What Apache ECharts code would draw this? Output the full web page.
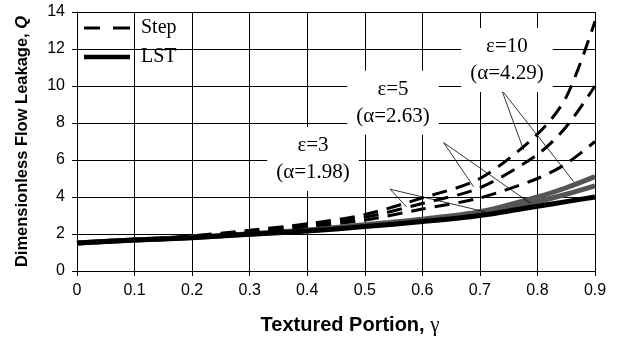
<!DOCTYPE html>
<html>
<head>
<meta charset="utf-8">
<script src="https://cdn.jsdelivr.net/npm/echarts@6/dist/echarts.min.js"></script>
<style>
  html, body { margin: 0; padding: 0; background: #fff; }
  #chart { width: 619px; height: 345px; }
</style>
</head>
<body>
<div id="chart"></div>
<script>
// textured portion values where the curves were read
var gammaVals = [0, 0.1, 0.2, 0.3, 0.4, 0.5, 0.6, 0.7, 0.8, 0.85, 0.9];

// Step model (dashed)
var stepEps3  = [1.5, 1.65, 1.85, 2.1, 2.4, 2.75, 3.35, 3.95, 5.0, 5.8, 7.0];
var stepEps5  = [1.5, 1.66, 1.88, 2.15, 2.5, 2.9, 3.65, 4.5, 6.3, 7.8, 10.0];
var stepEps10 = [1.5, 1.67, 1.9, 2.2, 2.55, 3.05, 3.95, 5.0, 7.4, 9.4, 13.5];

// LST model (solid)
var lstEps3  = [1.52, 1.67, 1.8, 1.98, 2.16, 2.4, 2.67, 3.0, 3.5, 3.75, 4.0];
var lstEps5  = [1.52, 1.67, 1.81, 2.0, 2.19, 2.45, 2.75, 3.1, 3.75, 4.15, 4.6];
var lstEps10 = [1.52, 1.67, 1.82, 2.01, 2.21, 2.5, 2.8, 3.2, 4.0, 4.5, 5.1];

// annotation text and anchor (data coords)
var noteText = ['ε=3\n(α=1.98)', 'ε=5\n(α=2.63)', 'ε=10\n(α=4.29)'];
var noteAt   = [[0.41, 6.05], [0.549, 9.1], [0.747, 11.4]];

// leader arrows: [start, end] in data coords
var arrows = [
  [[0.544, 4.42], [0.573, 3.45]],
  [[0.544, 4.42], [0.709, 3.2]],
  [[0.637, 6.94], [0.689, 4.56]],
  [[0.637, 6.94], [0.788, 3.66]],
  [[0.738, 9.78], [0.776, 6.54]],
  [[0.738, 9.78], [0.863, 4.83]]
];

var SANS = 'Liberation Sans';
var SERIF = 'Liberation Serif';

function pairs(ys) {
  return gammaVals.map(function (g, i) { return [g, ys[i]]; });
}

function stepSeries(ys) {
  return {
    name: 'Step', type: 'line', smooth: 0.3, symbol: 'none', z: 4,
    itemStyle: { color: '#000' },
    lineStyle: { color: '#000', width: 3, type: [15, 9] },
    data: pairs(ys)
  };
}
function lstSeries(ys, color, z) {
  return {
    name: 'LST', type: 'line', smooth: 0.3, symbol: 'none', z: z,
    itemStyle: { color: color },
    lineStyle: { color: color, width: 5 },
    data: pairs(ys)
  };
}

var chart = echarts.init(document.getElementById('chart'));
chart.setOption({
  animation: false,
  backgroundColor: '#fff',
  grid: { left: 77, right: 24, top: 12, bottom: 74 },
  legend: {
    data: [
      { name: 'Step', icon: 'path://M0,0h16v3h-16z M29,0h17v3h-17z', itemStyle: { color: '#000' } },
      { name: 'LST', icon: 'path://M0,0h49v5h-49z', itemStyle: { color: '#000' } }
    ],
    orient: 'vertical',
    left: 79, top: 13,
    itemWidth: 46, itemHeight: 14, itemGap: 9,
    selectedMode: false,
    textStyle: { fontFamily: SERIF, fontSize: 20, color: '#000', padding: [0, 0, 0, 6] }
  },
  xAxis: {
    type: 'value', min: 0, max: 0.9, interval: 0.1,
    name: 'Textured Portion, {g|γ}',
    nameLocation: 'middle', nameGap: 44,
    nameTextStyle: {
      fontFamily: SANS, fontWeight: 'bold', fontSize: 20, color: '#000',
      padding: [0, 0, 0, 28],
      rich: { g: { fontFamily: SERIF, fontWeight: 'normal', fontSize: 21, color: '#000' } }
    },
    axisLine: { lineStyle: { color: '#000', width: 1 } },
    axisTick: { show: true, length: 5, lineStyle: { color: '#000' } },
    axisLabel: { fontFamily: SANS, fontSize: 16, color: '#000', margin: 12 },
    splitLine: { show: true, lineStyle: { color: '#000', width: 1 } }
  },
  yAxis: {
    type: 'value', min: 0, max: 14, interval: 2,
    name: 'Dimensionless Flow Leakage, {q|Q}',
    nameLocation: 'middle', nameGap: 46,
    nameTextStyle: {
      fontFamily: SANS, fontWeight: 'bold', fontSize: 16.5, color: '#000',
      rich: { q: { fontFamily: SANS, fontWeight: 'bold', fontStyle: 'italic', fontSize: 16.5, color: '#000' } }
    },
    axisLine: { show: true, lineStyle: { color: '#000', width: 1 } },
    axisTick: { show: true, length: 5, lineStyle: { color: '#000' } },
    axisLabel: { fontFamily: SANS, fontSize: 16, color: '#000', margin: 12 },
    splitLine: { show: true, lineStyle: { color: '#000', width: 1 } }
  },
  series: [
    lstSeries(lstEps3, '#000', 3),
    lstSeries(lstEps5, '#555', 2),
    lstSeries(lstEps10, '#555', 2),
    stepSeries(stepEps3),
    stepSeries(stepEps5),
    stepSeries(stepEps10),
    {
      name: 'arrows', type: 'line', data: [], z: 5, silent: true,
      markLine: {
        silent: true, animation: false,
        symbol: ['none', 'arrow'], symbolSize: [0, 7],
        label: { show: false },
        lineStyle: { color: '#000', width: 0.8, type: 'solid' },
        emphasis: { disabled: true },
        data: arrows.map(function (a) {
          return [{ coord: a[0] }, { coord: a[1] }];
        })
      }
    },
    {
      name: 'notes', type: 'line', data: [], z: 6, silent: true,
      markPoint: {
        silent: true, animation: false,
        symbol: 'circle', symbolSize: 1,
        itemStyle: { color: 'rgba(0,0,0,0)' },
        label: {
          show: true, position: 'inside',
          fontFamily: SERIF, fontSize: 21, lineHeight: 27, color: '#000',
          align: 'center', verticalAlign: 'middle',
          backgroundColor: '#fff', padding: [5, 9]
        },
        data: noteText.map(function (t, i) {
          return { coord: noteAt[i], value: t, label: { formatter: t } };
        })
      }
    }
  ]
});
</script>
</body>
</html>
